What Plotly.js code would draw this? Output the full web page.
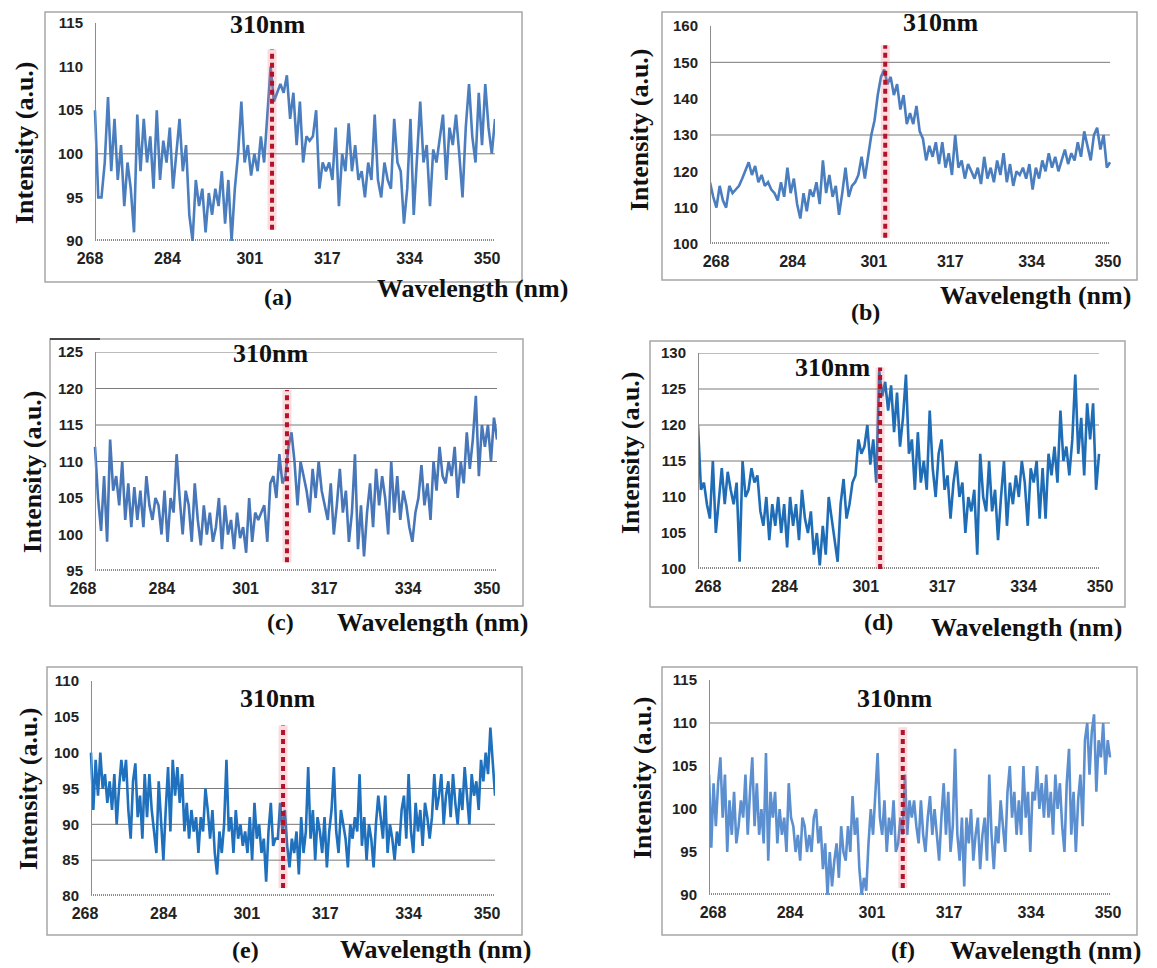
<!DOCTYPE html>
<html>
<head>
<meta charset="utf-8">
<script src="https://cdn.plot.ly/plotly-3.0.1.min.js"></script>
<style>html,body{margin:0;padding:0;background:#fff}#chart{width:1157px;height:968px}</style>
</head>
<body>
<div id="chart"></div>
<script>
// ---------------- data ----------------
const tickLabels = [268, 284, 301, 317, 334, 350];
const panelLabels = ['(a)', '(b)', '(c)', '(d)', '(e)', '(f)'];
const peakLabel = '310nm';
const xTitle = 'Wavelength (nm)';
const yTitle = 'Intensity (a.u.)';

const intensityA = [105, 95, 95, 99, 106.5, 98, 104, 97, 101, 94, 99, 96, 91, 104.5, 98, 104, 99, 102, 96, 105, 97, 101.5, 99, 103, 96, 100, 104, 98, 101, 93, 90, 97, 94, 96, 91, 95.5, 93, 96, 94, 98, 92, 97, 90, 96, 100, 106, 99, 101, 97.5, 100, 98, 102, 99, 104.5, 110, 106, 107, 108,
  107, 109, 104, 107, 101, 106, 99, 102, 101.5, 102, 105, 96, 99, 98, 99, 97, 103, 94, 100, 98, 103.5, 98, 101, 97, 98, 95, 99, 97, 104.5, 97, 95, 99, 97, 96, 104, 99, 98, 92, 96, 104, 93, 99, 106, 99, 101, 94, 100.5, 99, 102, 104.5, 97, 103, 101, 104.5, 100, 95, 103, 108, 102, 99, 107, 101, 108, 103, 100, 104];

const intensityB = [117, 113, 110, 116, 112, 110, 116, 114, 115, 116, 118, 120, 122.5, 119, 121.5, 117, 119, 116, 117, 115, 114, 112, 117, 113, 121, 114, 118, 111, 107, 114, 109, 115, 113, 117, 111, 123, 114, 119, 113, 116, 108, 114, 121, 113, 116, 117, 119, 124,
  118, 124, 130, 134, 141, 146, 148, 144, 146, 141, 144, 137, 141, 133, 136, 133, 138, 131, 129, 123, 127, 124, 128, 122, 128, 121, 125, 119, 130, 121, 123, 118, 122, 120, 118, 121, 116.5, 124, 118, 121, 117, 123, 119, 125, 117, 122, 116, 120, 119, 121, 118, 122, 115, 121, 118, 123, 120, 125, 121, 124, 120, 123, 126, 122, 125, 123, 128, 124, 131, 127, 123, 130, 132, 126, 130, 121, 122.5];

const intensityC = [112, 105, 100.5, 108, 99, 113, 106, 108, 104, 110, 102, 107, 101, 106.5, 102, 106, 101, 108, 104, 102, 105, 104, 100, 106, 99, 105, 103, 111, 105, 100, 106, 104, 99, 107, 102, 98.5, 104, 100, 103, 99, 101, 105, 98, 104, 100, 102, 98, 103, 99.5, 101, 97.5, 105, 99, 103, 102, 103, 104, 99, 107, 108, 105, 111, 107,
  108, 112, 114, 110, 104, 110, 108, 106, 103, 109, 105, 110, 106, 104, 102, 107, 100, 104, 109, 103, 106, 99, 103, 111, 98, 104, 97, 103, 107, 101, 109, 104, 108, 105, 100, 110, 103, 108, 102, 106, 104, 101, 99, 103, 105, 109.5, 104, 107, 102, 110, 106, 112, 108, 107, 110, 108, 112, 105, 110, 107, 114, 109, 113, 119, 108, 115, 112, 115, 110, 116, 113];

const intensityD = [120, 111, 112, 109, 107, 115, 105, 110, 114, 109, 113.5, 111, 109, 112, 101, 115, 110, 111, 114, 112, 113, 108, 106, 110, 104, 109, 106, 110, 105, 109, 103, 110, 106, 109, 104, 111, 107, 105, 108, 102, 105, 100.5, 106, 102, 110, 107, 104, 101, 109, 112.5, 107, 109, 112, 113, 118, 116,
  117, 120, 114.5, 118, 112, 127.5, 124, 126, 122, 125.5, 119, 124.5, 117, 121, 127, 116, 118, 111, 119, 112, 115, 111, 122, 114, 110, 116, 118, 111, 113, 107, 112, 115, 110, 112, 105, 110, 108, 111, 102, 116, 110, 108, 115, 108, 111, 104, 110, 115, 106, 112, 109, 113, 110, 115, 112, 106, 114, 112, 115, 107, 114, 107, 116, 113, 117, 112, 122, 115, 117, 113, 118, 127, 116, 121, 113, 123, 118, 123, 111, 116];

const intensityE = [100, 92, 99, 94, 100, 95, 97, 93, 96, 92, 97, 90, 95, 99, 96, 99, 92, 88, 96, 98.5, 91, 94, 88, 97, 91, 97, 92, 89, 86, 96, 90, 85, 92, 98, 89, 99, 94, 98, 93, 97, 89, 93, 88, 92, 89, 91, 86, 91, 89, 95, 92, 88, 92, 86, 83, 89, 86, 90, 99, 89, 91, 86, 92, 88, 90, 87, 89, 86, 91, 85, 93, 88, 90, 86, 88, 82, 89, 93, 87, 88,
  88, 93, 89, 92, 87, 84, 88, 86, 89, 83, 91, 86, 89, 98, 88, 92, 85, 91, 89, 86, 91, 84, 89, 92, 98, 89, 86, 92, 90, 88, 84, 90, 88, 91, 89, 97, 87, 91, 85, 90, 88, 84, 90, 94, 91, 88, 94, 86, 90, 88, 85, 89, 87, 92, 94, 88, 97, 89, 86, 93, 89, 92, 87, 93, 91, 88, 91, 97, 92, 94, 97, 90, 94, 96, 91, 97, 93, 90, 95, 92, 98, 94, 90, 97, 94, 96, 92, 99, 96, 100, 97, 103.5, 99, 94];

const intensityF = [104, 95.5, 103, 98, 103, 106, 99, 104, 95, 101, 97, 102, 96, 98, 101, 99, 104, 97, 102, 106, 98, 103, 97, 100, 96, 106.5, 94, 102, 99, 102, 96, 100, 97, 99, 95, 103, 99, 98, 95, 97, 94, 99, 98, 95, 97, 95, 99, 100, 96, 98, 93, 96, 90, 95, 91, 94, 96, 92, 98, 95, 94, 98, 95, 101.5, 97, 99,
  93, 90, 92, 90.5, 96, 100, 97, 102.5, 106.5, 99, 97, 101, 95, 99, 97, 101, 95, 96, 99, 97, 104, 97, 101, 99, 101, 98, 96, 101, 97, 95, 99, 101.5, 97, 100, 97, 94, 99, 103, 97, 102, 95, 98, 107, 97, 94, 99, 91, 99, 96, 100, 94, 97, 99, 93, 97, 99, 94, 104, 97, 93, 98, 96, 101, 98, 95, 102, 105, 99, 102, 97, 101, 97, 105, 99, 102, 95, 102, 101, 105, 100, 103, 99, 104, 99, 102, 97, 104, 100, 103, 98, 95, 103, 107, 97, 102, 95, 101, 104, 98, 108, 110, 104, 109, 111, 102, 108, 106, 110, 104, 108, 106];

// first and last sampled wavelength of each spectrum (nm)
const specStart = [269.03, 266.74, 270.44, 265.91, 269.22, 267.17];
const specEnd = [351.66, 350.43, 352.03, 349.80, 351.64, 350.42];

// red dotted 310 nm marker: wavelength on axis and vertical extent
const markerWl = [305.6, 303.4, 309.4, 304.0, 308.4, 307.4];
const markerLow = [91.3, 101.7, 96.2, 100, 81.1, 90.8];
const markerHigh = [112.0, 154.7, 119.8, 128, 103.8, 109.5];

const series = [intensityA, intensityB, intensityC, intensityD, intensityE, intensityF];

// ---------------- layout geometry (pixels) ----------------
const W = 1157, H = 968;
const G = [
  {p268: 90, p350: 487, L: 95, R: 495, T: 23, B: 241, yr: [90, 115], dt: 5, grid: [100], frame: [45, 12, 522, 282], color: '#4a7ebf', peak: [267, 25], lab: [278, 297], xt: [472, 288], yt: [25, 143]},
  {p268: 716, p350: 1108, L: 710, R: 1110, T: 26, B: 244, yr: [100, 160], dt: 10, grid: [130, 150], frame: [662, 12, 1137, 280], color: '#4a7ebf', peak: [940, 23], lab: [865, 312], xt: [1035, 295], yt: [640, 130]},
  {p268: 83, p350: 487, L: 95, R: 497, T: 352, B: 571, yr: [95, 125], dt: 5, grid: [110, 115, 120, 125], frame: [50, 339, 523, 606], color: '#4777b8', peak: [270, 353], lab: [280, 622], xt: [432, 622], yt: [33, 472]},
  {p268: 708, p350: 1100, L: 698, R: 1099, T: 353, B: 569, yr: [100, 130], dt: 5, grid: [115, 120, 125, 130], frame: [650, 341, 1125, 607], color: '#1f6db6', peak: [832, 367], lab: [878, 622], xt: [1026, 627], yt: [630, 453]},
  {p268: 85, p350: 487, L: 91, R: 495, T: 681, B: 896, yr: [80, 110], dt: 5, grid: [85, 90, 95], frame: [47, 667, 522, 935], color: '#1f70bd', peak: [277, 698], lab: [245, 950], xt: [435, 949], yt: [28, 789]},
  {p268: 713, p350: 1108, L: 709, R: 1110, T: 680, B: 895, yr: [90, 115], dt: 5, grid: [110], frame: [662, 667, 1137, 935], color: '#5b8fd0', peak: [894, 698], lab: [903, 950], xt: [1045, 950], yt: [642, 778]}
];

const px = v => v / W;
const py = v => 1 - v / H;
const serif = 'Liberation Serif';
const sans = 'Liberation Sans';

const traces = [];
const shapes = [];
const annotations = [];
const layout = {
  width: W, height: H,
  margin: {l: 0, r: 0, t: 0, b: 0},
  paper_bgcolor: '#ffffff', plot_bgcolor: 'rgba(0,0,0,0)',
  showlegend: false
};

G.forEach((g, i) => {
  const n = i + 1;
  const xa = 'x' + n, ya = 'y' + n;
  const k = (g.p350 - g.p268) / (tickLabels[tickLabels.length - 1] - tickLabels[0]);
  const wl = p => tickLabels[0] + (p - g.p268) / k;
  const dL = Math.min(g.L, g.p268 - 4), dR = Math.max(g.R, g.p350 + 4);

  const vals = series[i];
  const step = (specEnd[i] - specStart[i]) / (vals.length - 1);
  const xs = vals.map((_, j) => specStart[i] + j * step);

  traces.push({
    type: 'scatter', mode: 'lines', x: xs, y: vals, xaxis: xa, yaxis: ya,
    line: {color: g.color, width: 2.6}, hoverinfo: 'skip'
  });

  layout['xaxis' + n] = {
    domain: [px(dL), px(dR)], range: [wl(dL), wl(dR)], anchor: ya,
    tickmode: 'array', tickvals: tickLabels, ticktext: tickLabels.map(String),
    ticks: '', showline: false, showgrid: false, zeroline: false,
    ticklabelstandoff: 6,
    tickfont: {family: sans, size: 16, color: '#222', weight: 'bold'},
    fixedrange: true
  };
  layout['yaxis' + n] = {
    domain: [py(g.B), py(g.T)], range: g.yr, anchor: 'free', position: px(g.L),
    tick0: g.yr[0], dtick: g.dt, ticks: '', showline: true, linecolor: '#8c8c8c', linewidth: 1,
    showgrid: false, zeroline: false, ticklabelstandoff: 9,
    tickfont: {family: sans, size: 15, color: '#222', weight: 'bold'},
    title: {text: '', font: {family: serif, size: 26, color: '#111', weight: 'bold'}},
    fixedrange: true
  };

  // chart frame
  shapes.push({type: 'rect', xref: 'paper', yref: 'paper', x0: px(g.frame[0]), x1: px(g.frame[2]), y0: py(g.frame[1]), y1: py(g.frame[3]),
    line: {color: '#a6a6a6', width: 1.5}, layer: 'below'});
  // horizontal gridlines
  g.grid.forEach(v => shapes.push({type: 'line', xref: 'paper', yref: ya, x0: px(g.L), x1: px(g.R), y0: v, y1: v,
    line: {color: '#7a7a7a', width: 1}, layer: 'below'}));
  // dense category tick band along the x axis
  shapes.push({type: 'line', xref: 'paper', yref: ya, x0: px(g.L), x1: px(g.R), y0: g.yr[0], y1: g.yr[0],
    line: {color: '#8a8a8a', width: 4, dash: '1px,1px'}, layer: 'below'});
  // red dotted marker line (halo + dots)
  shapes.push({type: 'line', xref: xa, yref: ya, x0: markerWl[i], x1: markerWl[i], y0: markerLow[i], y1: markerHigh[i],
    line: {color: 'rgba(240,110,120,0.25)', width: 9}});
  shapes.push({type: 'line', xref: xa, yref: ya, x0: markerWl[i], x1: markerWl[i], y0: markerLow[i], y1: markerHigh[i],
    line: {color: '#b0142c', width: 4, dash: '5px,4px'}});

  annotations.push({xref: 'paper', yref: 'paper', x: px(g.yt[0]), y: py(g.yt[1]), xanchor: 'center', yanchor: 'middle', textangle: -90,
    text: '<b>' + yTitle + '</b>', showarrow: false, font: {family: serif, size: 26, color: '#111'}});
  annotations.push({xref: 'paper', yref: 'paper', x: px(g.peak[0]), y: py(g.peak[1]), xanchor: 'center', yanchor: 'middle',
    text: '<b>' + peakLabel + '</b>', showarrow: false, font: {family: serif, size: 26, color: '#111'}});
  annotations.push({xref: 'paper', yref: 'paper', x: px(g.lab[0]), y: py(g.lab[1]), xanchor: 'center', yanchor: 'middle',
    text: '<b>' + panelLabels[i] + '</b>', showarrow: false, font: {family: serif, size: 24, color: '#111'}});
  annotations.push({xref: 'paper', yref: 'paper', x: px(g.xt[0]), y: py(g.xt[1]), xanchor: 'center', yanchor: 'middle',
    text: '<b>' + xTitle + '</b>', showarrow: false, font: {family: serif, size: 26, color: '#111'}});
});

// short dark segment on top edge of frame (c)
shapes.push({type: 'line', xref: 'paper', yref: 'paper', x0: px(50), x1: px(100), y0: py(339), y1: py(339), line: {color: '#222', width: 1.5}});

layout.shapes = shapes;
layout.annotations = annotations;

Plotly.newPlot('chart', traces, layout, {displayModeBar: false, staticPlot: true});
</script>
</body>
</html>
